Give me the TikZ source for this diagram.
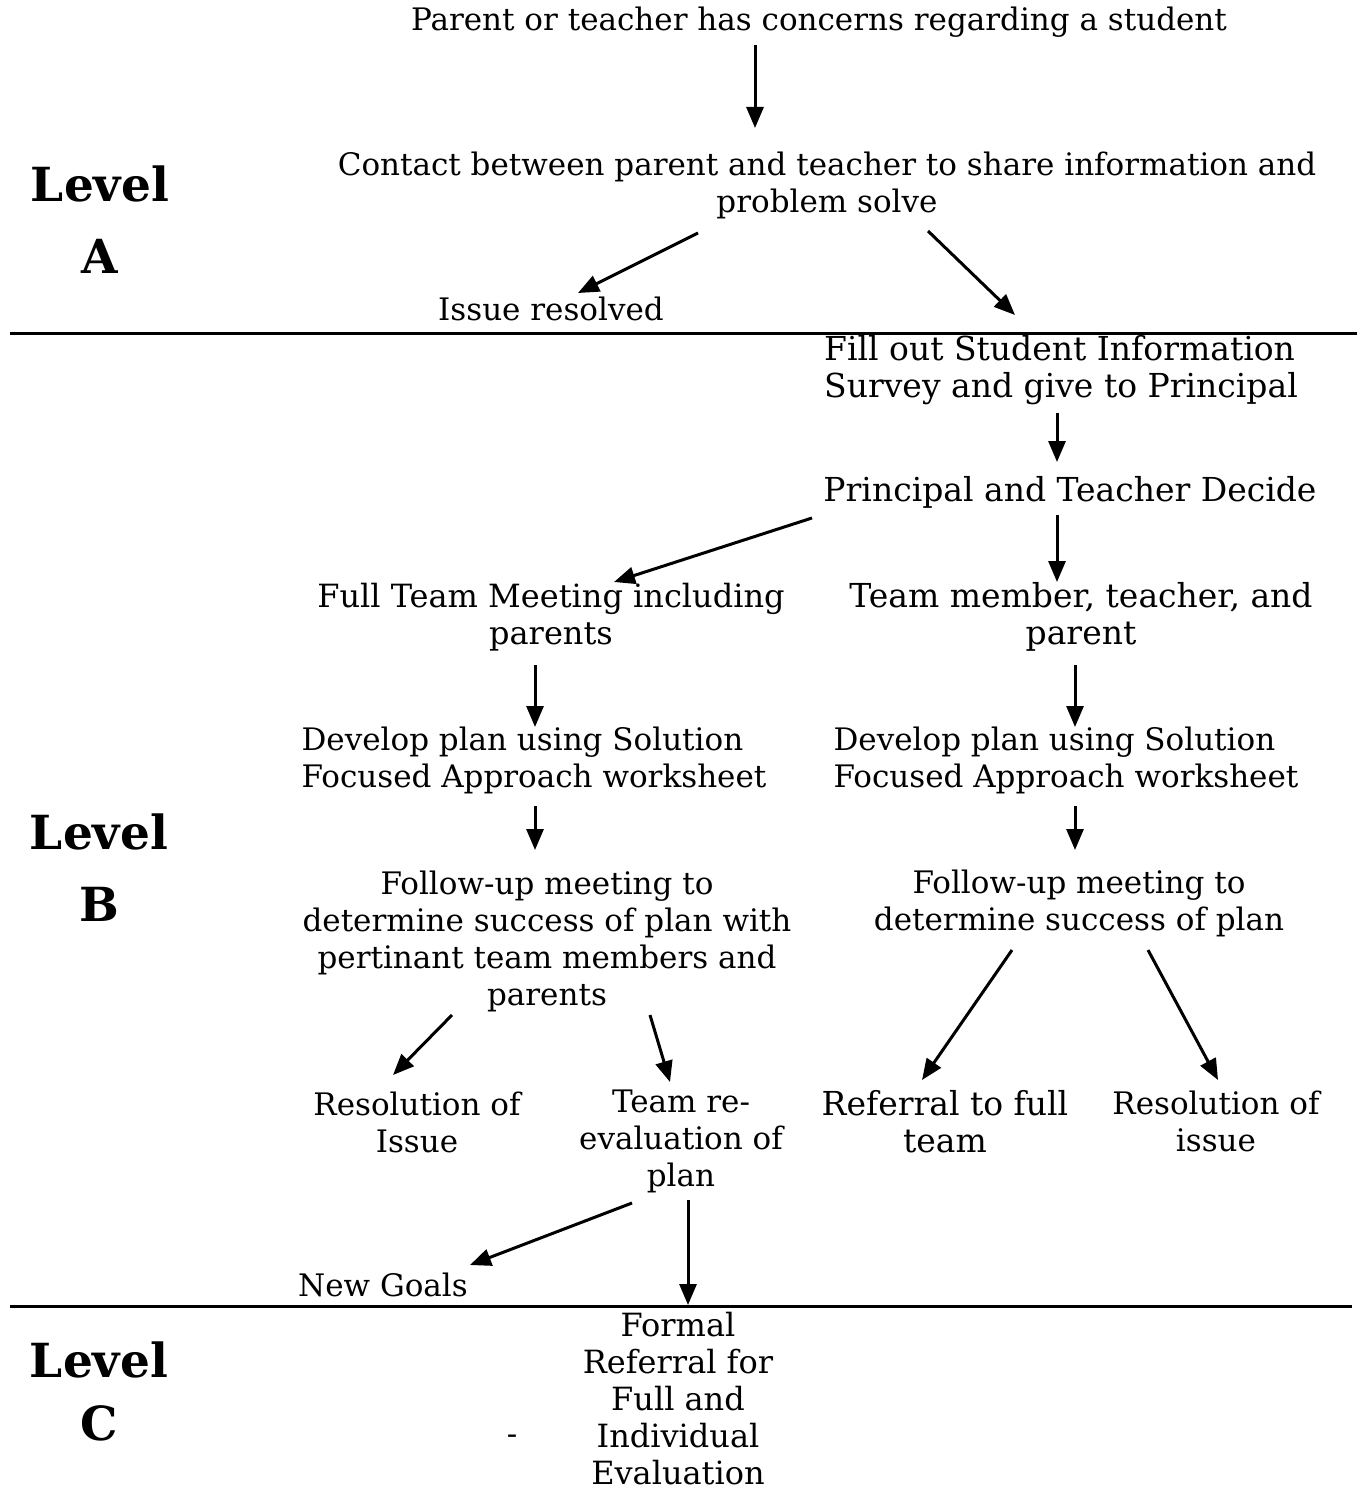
\documentclass[tikz,border=0pt]{standalone}
\usepackage{fontspec}
\setmainfont{DejaVu Serif}
\usetikzlibrary{arrows.meta}
\tikzset{
  txt/.style={font=\fontsize{31}{37}\selectfont, align=center, inner sep=0pt},
  txtb/.style={txt, font=\fontsize{33}{37}\selectfont},
  txtm/.style={txt, font=\fontsize{32}{37}\selectfont},
  lvl/.style={font=\fontsize{47}{72}\selectfont\bfseries, align=center, inner sep=0pt},
  arr/.style={line width=3pt, -{Triangle[length=21pt,width=17pt]}},
  rule/.style={line width=3pt}
}
\begin{document}
\begin{tikzpicture}[x=1pt,y=-1pt]
\useasboundingbox (0,0) rectangle (1362,1493);
% Level labels
\node[lvl] (la) at (100,220) {Level\\A};
\node[lvl] (lb) at (99,868) {Level\\B};
\node[lvl, font=\fontsize{47}{63}\selectfont\bfseries] (lc) at (99,1391) {Level\\C};
% Level A
\node[txt] (top) at (819,22) {Parent or teacher has concerns regarding a student};
\node[txt] (contact) at (827,185.5) {Contact between parent and teacher to share information and\\problem solve};
\node[txt] (issue) at (551,309) {Issue resolved};
% rules
\coordinate (r1l) at (10,333); \coordinate (r1r) at (1357,333);
\coordinate (r2l) at (10,1306); \coordinate (r2r) at (1352,1306);
\draw[rule] (r1l) -- (r1r);
\draw[rule] (r2l) -- (r2r);
% Level B
\node[txtb, align=left] (fill) at (1061,370) {Fill out Student Information\\Survey and give to Principal};
\node[txtb] (princ) at (1070,492) {Principal and Teacher Decide};
\node[txtm] (full) at (551,617) {Full Team Meeting including\\parents};
\node[txtb] (tm) at (1081,617) {Team member, teacher, and\\parent};
\node[txt, align=left] (devl) at (534,760) {Develop plan using Solution\\Focused Approach worksheet};
\node[txt, align=left] (devr) at (1066,760) {Develop plan using Solution\\Focused Approach worksheet};
\node[txt] (foll) at (547,941.5) {Follow-up meeting to\\determine success of plan with\\pertinant team members and\\parents};
\node[txt] (folr) at (1079,903.5) {Follow-up meeting to\\determine success of plan};
\node[txt] (resl) at (417,1122.5) {Resolution of\\Issue};
\node[txt] (tre) at (681,1141.5) {Team re-\\evaluation of\\plan};
\node[txtb] (ref) at (945,1121.5) {Referral to full\\team};
\node[txt] (resr) at (1216,1121.5) {Resolution of\\issue};
\node[txt] (ng) at (383,1285) {New Goals};
% Level C
\node[txtm] (formal) at (678,1399) {Formal\\Referral for\\Full and\\Individual\\Evaluation};
\node[txt] (dash) at (512,1440) {-};
% arrows
\draw[arr] ([shift={(-64,23)}]top.center) -- ([shift={(-72,-57.5)}]contact.center);
\draw[arr] ([shift={(-129,47.5)}]contact.center) -- ([shift={(27,-16)}]issue.center);
\draw[arr] ([shift={(101,45.5)}]contact.center) -- ([shift={(-46,-55)}]fill.center);
\draw[arr] ([shift={(-4,43)}]fill.center) -- ([shift={(-13,-30)}]princ.center);
\draw[arr] ([shift={(-258,26)}]princ.center) -- ([shift={(63,-35)}]full.center);
\draw[arr] ([shift={(-13,23)}]princ.center) -- ([shift={(-24,-35)}]tm.center);
\draw[arr] ([shift={(-16,48)}]full.center) -- ([shift={(1,-33)}]devl.center);
\draw[arr] ([shift={(-6,48)}]tm.center) -- ([shift={(9,-33)}]devr.center);
\draw[arr] ([shift={(1,46)}]devl.center) -- ([shift={(-12,-91.5)}]foll.center);
\draw[arr] ([shift={(9,46)}]devr.center) -- ([shift={(-4,-53.5)}]folr.center);
\draw[arr] ([shift={(-95,73.5)}]foll.center) -- ([shift={(-24,-47.5)}]resl.center);
\draw[arr] ([shift={(103,73.5)}]foll.center) -- ([shift={(-11,-59.5)}]tre.center);
\draw[arr] ([shift={(-67,46.5)}]folr.center) -- ([shift={(-23,-41.5)}]ref.center);
\draw[arr] ([shift={(69,46.5)}]folr.center) -- ([shift={(2,-41.5)}]resr.center);
\draw[arr] ([shift={(-49,61.5)}]tre.center) -- ([shift={(87,-20)}]ng.center);
\draw[arr] ([shift={(7,58.5)}]tre.center) -- ([shift={(10,-94)}]formal.center);
\end{tikzpicture}
\end{document}
